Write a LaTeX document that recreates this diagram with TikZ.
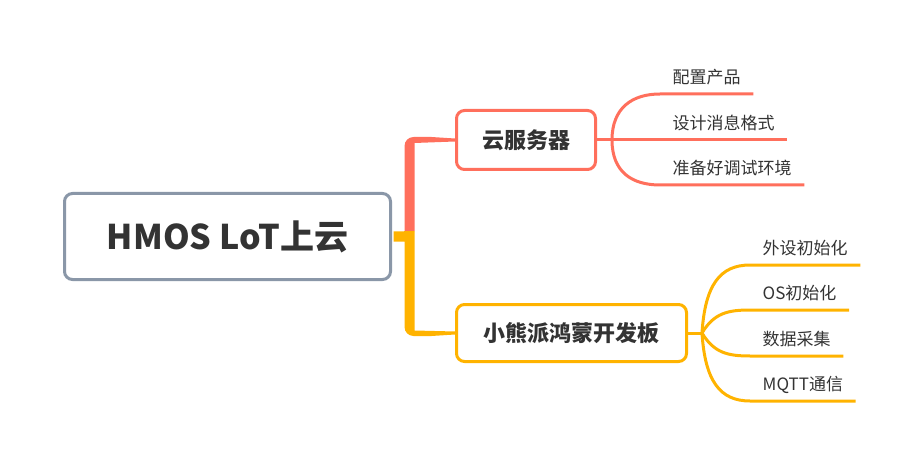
\documentclass[tikz,border=0pt]{standalone}
\usepackage{fontspec}
\setmainfont{Noto Sans CJK SC}
\usetikzlibrary{calc}
\definecolor{cred}{HTML}{FF6F5C}
\definecolor{cyel}{HTML}{FFB300}
\definecolor{cgray}{HTML}{8A97A8}
\definecolor{ctext}{HTML}{333333}
\begin{document}
\begin{tikzpicture}[x=1pt,y=-1pt,
 topic/.style={draw, line width=3pt, rounded corners=8pt, fill=white, text=ctext, font=\bfseries\fontsize{22}{26}\selectfont, inner sep=0pt},
 leaf/.style={anchor=south west, inner xsep=12.5pt, inner ysep=0pt, text height=15pt, text depth=10pt, text=ctext, font=\fontsize{17}{20}\selectfont},
 bline/.style={line width=3pt, line cap=butt}
]
\useasboundingbox (0,0) rectangle (923,465);
\node[topic, draw=cgray, minimum width=326pt, minimum height=86pt, font=\bfseries\fontsize{34}{40}\selectfont] (root) at (227.5,236.5) {HMOS LoT上云};
\node[topic, draw=cred, minimum width=139pt, minimum height=59pt] (cloud) at (526,140) {云服务器};
\node[topic, draw=cyel, minimum width=230pt, minimum height=57pt] (board) at (571.5,333) {小熊派鸿蒙开发板};

\node[leaf] (a1) at (660,94) {配置产品};
\node[leaf] (a2) at (660,140) {设计消息格式};
\node[leaf] (a3) at (660,185) {准备好调试环境};
\node[leaf] (b1) at (750,265) {外设初始化};
\node[leaf] (b2) at (750,310) {OS初始化};
\node[leaf] (b3) at (750,356) {数据采集};
\node[leaf] (b4) at (750,401) {MQTT通信};

\coordinate (tx) at ($(root.east)+(17.5,0)$);
\coordinate (tr) at (tx |- cloud.west);
\coordinate (tb) at (tx |- board.west);
\coordinate (j1) at ($(cloud.east)+(15,0)$);
\coordinate (j2) at ($(board.east)+(14,0)$);

\fill[cred] ($(tx)+(-5,-5.5)$) [rounded corners=9pt] -- ($(tr)+(-5,-3)$) [sharp corners] -- ($(tr)+(22,-3)$) -- ($(cloud.west)+(0,-1.5)$) -- ($(cloud.west)+(0,1.5)$) -- ($(tr)+(5,3)$) -- ($(tx)+(5,-5.5)$) -- cycle;
\fill[cyel] ($(root.east)+(1.5,-5)$) -- ($(tx)+(5,-5.5)$) -- ($(tb)+(5,-2.5)$) -- ($(board.west)+(0,-1.5)$) -- ($(board.west)+(0,1.5)$) -- ($(tb)+(22,3)$) [rounded corners=9pt] -- ($(tb)+(-5,3)$) [sharp corners] -- ($(tx)+(-5,5)$) -- ($(root.east)+(1.5,5)$) -- cycle;

\draw[bline, cred] (cloud.east) -- (a2.south east);
\draw[bline, cred] (j1) .. controls +(0,-32) and +(-28,0) .. (a1.south west) -- (a1.south east);
\draw[bline, cred] (j1) .. controls +(0,32) and +(-28,0) .. (a3.south west) -- (a3.south east);

\draw[bline, cyel] (board.east) -- (j2);
\draw[bline, cyel] (j2) .. controls +(3,-48) and +(-30,0) .. (b1.south west) -- (b1.south east);
\draw[bline, cyel] (j2) .. controls +(12,-20) and +(-22,0) .. (b2.south west) -- (b2.south east);
\draw[bline, cyel] (j2) .. controls +(12,20) and +(-22,0) .. (b3.south west) -- (b3.south east);
\draw[bline, cyel] (j2) .. controls +(3,48) and +(-30,0) .. (b4.south west) -- (b4.south east);
\end{tikzpicture}
\end{document}
